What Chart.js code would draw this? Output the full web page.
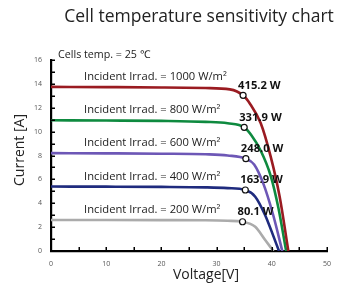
<!DOCTYPE html>
<html>
<head>
<meta charset="utf-8">
<script src="https://cdn.jsdelivr.net/npm/chart.js@4/dist/chart.umd.min.js"></script>
<style>
  html, body { margin: 0; padding: 0; background: #fff; }
</style>
</head>
<body>
<canvas id="iv" width="342" height="284"></canvas>
<script>
// I-V curves of the module at 25 °C, one per irradiance level (V, A)
const irradiance = [1000, 800, 600, 400, 200];

const volt1000 = [0, 10, 20, 28, 32.4, 34.8, 36.1, 38, 39.8, 41.4, 43.0];
const amp1000  = [13.75, 13.73, 13.7, 13.65, 13.54, 13.04, 12.3, 10.7, 7.9, 4.6, 0];

const volt800 = [0, 10, 20, 28, 32, 35.0, 36.3, 38, 39.8, 41.2, 42.6];
const amp800  = [10.95, 10.93, 10.9, 10.82, 10.7, 10.36, 9.7, 8.4, 6.3, 3.6, 0];

const volt600 = [0, 10, 20, 28, 32, 35.3, 36.8, 38.5, 40.2, 41.9];
const amp600  = [8.2, 8.18, 8.15, 8.1, 8.0, 7.73, 7.25, 5.6, 3.1, 0];

const volt400 = [0, 10, 20, 28, 32, 35.2, 37, 38.8, 40, 41.3];
const amp400  = [5.4, 5.39, 5.37, 5.33, 5.27, 5.11, 4.55, 3.0, 1.6, 0];

const volt200 = [0, 10, 20, 28, 32, 34.7, 37, 38.8, 40.3];
const amp200  = [2.6, 2.6, 2.59, 2.57, 2.53, 2.45, 2.03, 0.92, 0];

// maximum power points
const mppVolt  = [34.8, 35.0, 35.3, 35.2, 34.7];
const mppAmp   = [13.04, 10.36, 7.73, 5.11, 2.45];
const mppLabel = ['415.2 W', '331.9 W', '248.0 W', '163.9 W', '80.1 W'];

const yTickLabels = [0, 2, 4, 6, 8, 10, 12, 14, 16];
const xTickLabels = [0, 10, 20, 30, 40, 50];

const curves = [
  [volt1000, amp1000], [volt800, amp800], [volt600, amp600],
  [volt400, amp400], [volt200, amp200],
];
const lineColors = ['#9a1b21', '#0e8a3f', '#6d57b6', '#1f2b7e', '#ababab'];
const FONT = "'Open Sans', sans-serif";

const toPoints = (xs, ys) => xs.map((v, i) => ({ x: v, y: ys[i] }));

const datasets = curves.map(([xs, ys], k) => ({
  data: toPoints(xs, ys),
  showLine: true,
  borderColor: lineColors[k],
  borderWidth: 2.6,
  pointRadius: 0,
  cubicInterpolationMode: 'monotone',
  order: 1,
}));
datasets.push({
  data: toPoints(mppVolt, mppAmp),
  pointRadius: 3,
  pointBackgroundColor: '#fff',
  pointBorderColor: '#111',
  pointBorderWidth: 1.2,
  order: 0,
});

// ticks pointing into the plot, annotations and titles
const decor = {
  id: 'decor',
  afterDraw(chart) {
    const { ctx, scales: { x, y } } = chart;
    ctx.save();
    ctx.strokeStyle = '#000';
    ctx.lineWidth = 1.5;
    ctx.beginPath();
    y.ticks.forEach((t, i) => {
      const py = Math.round(y.getPixelForTick(i)) + 0.25;
      ctx.moveTo(x.left - 1, py); ctx.lineTo(x.left + 4, py);
    });
    x.ticks.forEach((t, i) => {
      const px = Math.round(x.getPixelForTick(i)) + 0.25;
      ctx.moveTo(px, y.bottom + 1); ctx.lineTo(px, y.bottom - 4);
    });
    ctx.stroke();

    ctx.fillStyle = '#222';
    ctx.textBaseline = 'middle';
    ctx.textAlign = 'left';
    ctx.font = `10.7px ${FONT}`;
    ctx.fillText('Cells temp. = 25 \u2103', 58, 55);

    curves.forEach(([xs, ys], k) => {
      ctx.font = `11.2px ${FONT}`;
      ctx.fillStyle = '#222';
      ctx.fillText(`Incident Irrad. = ${irradiance[k]} W/m\u00b2`,
        x.getPixelForValue(6), y.getPixelForValue(ys[0]) - 10);
      ctx.font = `bold 11.2px ${FONT}`;
      ctx.fillStyle = '#111';
      ctx.fillText(mppLabel[k],
        x.getPixelForValue(mppVolt[k]) - 5, y.getPixelForValue(mppAmp[k]) - 10);
    });

    ctx.fillStyle = '#222';
    ctx.textAlign = 'center';
    ctx.font = `17.5px ${FONT}`;
    ctx.fillText('Cell temperature sensitivity chart', 199, 17);
    ctx.font = `14px ${FONT}`;
    ctx.fillText('Voltage[V]', 206, 275);
    ctx.translate(20, 150);
    ctx.rotate(-Math.PI / 2);
    ctx.fillText('Current [A]', 0, 0);
    ctx.restore();
  },
};

const tickFont = { family: FONT, size: 7 };

new Chart(document.getElementById('iv'), {
  type: 'scatter',
  data: { datasets },
  plugins: [decor],
  options: {
    responsive: false,
    animation: false,
    layout: { padding: { top: 60, right: 15, left: 0, bottom: 0 } },
    plugins: { legend: { display: false }, tooltip: { enabled: false } },
    scales: {
      x: {
        type: 'linear',
        min: 0,
        max: 50,
        afterFit: s => { s.height = 33; },
        grid: { display: false },
        border: { display: true, color: '#000', width: 2.2 },
        ticks: {
          stepSize: 5,
          padding: 1,
          color: '#555',
          font: tickFont,
          callback: v => (xTickLabels.includes(v) ? v : ''),
        },
      },
      y: {
        min: 0,
        max: 16,
        afterFit: s => { s.width = 51; },
        grid: { display: false },
        border: { display: true, color: '#000', width: 2.2 },
        ticks: {
          stepSize: 1,
          padding: 1,
          color: '#555',
          font: tickFont,
          callback: v => (yTickLabels.includes(v) ? v : ''),
        },
      },
    },
  },
});
</script>
</body>
</html>
